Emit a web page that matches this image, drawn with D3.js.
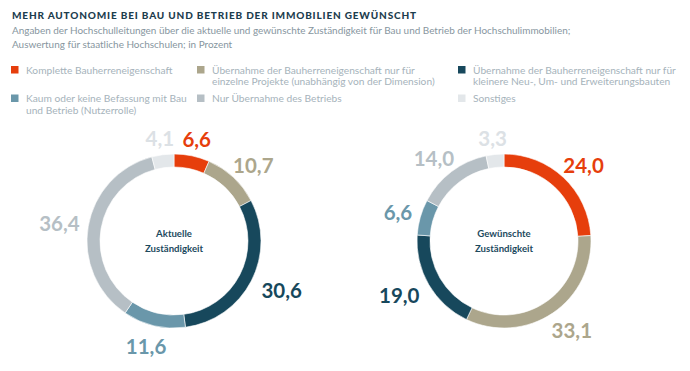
<!DOCTYPE html>
<html>
<head>
<meta charset="utf-8">
<script src="https://cdn.jsdelivr.net/npm/d3@7"></script>
<style>
body { margin: 0; background: #fff; }
text { font-family: Lato, "Open Sans", sans-serif; }
</style>
</head>
<body>
<div id="chart"></div>
<script>
var categories = [
	"Komplette Bauherreneigenschaft",
	"Übernahme der Bauherreneigenschaft nur für einzelne Projekte (unabhängig von der Dimension)",
	"Übernahme der Bauherreneigenschaft nur für kleinere Neu-, Um- und Erweiterungsbauten",
	"Kaum oder keine Befassung mit Bau und Betrieb (Nutzerrolle)",
	"Nur Übernahme des Betriebs",
	"Sonstiges"
];
var legendLines = [
	["Komplette Bauherreneigenschaft"],
	["Übernahme der Bauherreneigenschaft nur für", "einzelne Projekte (unabhängig von der Dimension)"],
	["Übernahme der Bauherreneigenschaft nur für", "kleinere Neu-, Um- und Erweiterungsbauten"],
	["Kaum oder keine Befassung mit Bau", "und Betrieb (Nutzerrolle)"],
	["Nur Übernahme des Betriebs"],
	["Sonstiges"]
];
var aktuell = [6.6, 10.7, 30.6, 11.6, 36.4, 4.1];
var gewuenscht = [24.0, 33.1, 19.0, 6.6, 14.0, 3.3];
var donutTitles = [["Aktuelle", "Zuständigkeit"], ["Gewünschte", "Zuständigkeit"]];

var colors = ["#e63e0c", "#aca68c", "#17485c", "#6a97aa", "#b6bfc5", "#e3e7ea"];
var labelColors = ["#e63e0c", "#aca68c", "#17485c", "#6a97aa", "#b6bfc5", "#dce1e5"];

var width = 690, height = 371;

var svg = d3.select("#chart")
	.append("svg")
	.attr("width", width)
	.attr("height", height);

// title + subtitle
svg.append("text")
	.text("MEHR AUTONOMIE BEI BAU UND BETRIEB DER IMMOBILIEN GEWÜNSCHT")
	.attr("x", 12).attr("y", 19)
	.attr("textLength", 404).attr("lengthAdjust", "spacing")
	.style("font-size", "10px").style("font-weight", "900")
	.attr("fill", "#1c3d4e");

var sub = ["Angaben der Hochschulleitungen über die aktuelle und gewünschte Zuständigkeit für Bau und Betrieb der Hochschulimmobilien;",
	"Auswertung für staatliche Hochschulen; in Prozent"];
sub.forEach(function(s, i) {
	svg.append("text")
		.text(s)
		.attr("x", 12).attr("y", 34 + i * 13.5)
		.style("font-size", "9.95px")
		.attr("fill", "#8796a0");
});

// legend
var legendX = [11, 197, 458];
var legendY = [66, 94.5];
var legend = svg.append("g").attr("class", "legend");
categories.forEach(function(c, i) {
	var gx = legendX[i % 3], gy = legendY[Math.floor(i / 3)];
	var g = legend.append("g").attr("transform", "translate(" + gx + "," + gy + ")");
	g.append("rect")
		.attr("width", 7.5).attr("height", 7.5)
		.attr("fill", colors[i]);
	legendLines[i].forEach(function(l, j) {
		g.append("text")
			.text(l)
			.attr("x", 15).attr("y", 7.5 + j * 11.5)
			.style("font-size", "10.2px")
			.attr("fill", "#a6b3bb");
	});
});

// donuts
var outerR = 87, innerR = 74;
var pie = d3.pie().sort(null).value(function(d){ return d; });
var arc = d3.arc().innerRadius(innerR).outerRadius(outerR);
var fmt = function(v){ return d3.format(".1f")(v).replace(".", ","); };

function renderDonut(data, cx, cy, title) {
	var g = svg.append("g")
		.attr("transform", "translate(" + cx + "," + cy + ")");

	var arcs = pie(data);

	g.selectAll("path.slice")
		.data(arcs)
		.enter()
		.append("path")
		.attr("class", "slice")
		.attr("d", arc)
		.attr("fill", function(d, i){ return colors[i]; })
		.attr("stroke", "#fff")
		.attr("stroke-width", 0.6);

	var labels = g.selectAll("text.val")
		.data(arcs)
		.enter()
		.append("text")
		.attr("class", "val")
		.text(function(d){ return fmt(d.data); })
		.style("font-size", "20.5px")
		.style("font-weight", "700")
		.style("text-anchor", "middle")
		.attr("fill", function(d, i){ return labelColors[i]; });

	// push each label outward along the slice's mid angle, clearing the ring by its own size
	labels.each(function(d) {
		var a = (d.startAngle + d.endAngle) / 2;
		var hw = this.getComputedTextLength() / 2, hh = 7.5;
		var s = Math.sin(a), c = -Math.cos(a);
		var r = 96 + (c > 0 ? 5 : 0);
		var x = s * r + s * hw;
		var y = c * r + Math.abs(c) * hh * Math.sign(c);
		d3.select(this)
			.attr("x", x)
			.attr("y", y + hh);
	});

	title.forEach(function(t, i) {
		g.append("text")
			.text(t)
			.attr("y", -4 + i * 15)
			.style("font-size", "9.6px")
			.style("font-weight", "700")
			.style("text-anchor", "middle")
			.attr("fill", "#1c4a5e");
	});
}

renderDonut(aktuell, 174, 241, donutTitles[0]);
renderDonut(gewuenscht, 504, 241, donutTitles[1]);
</script>
</body>
</html>
